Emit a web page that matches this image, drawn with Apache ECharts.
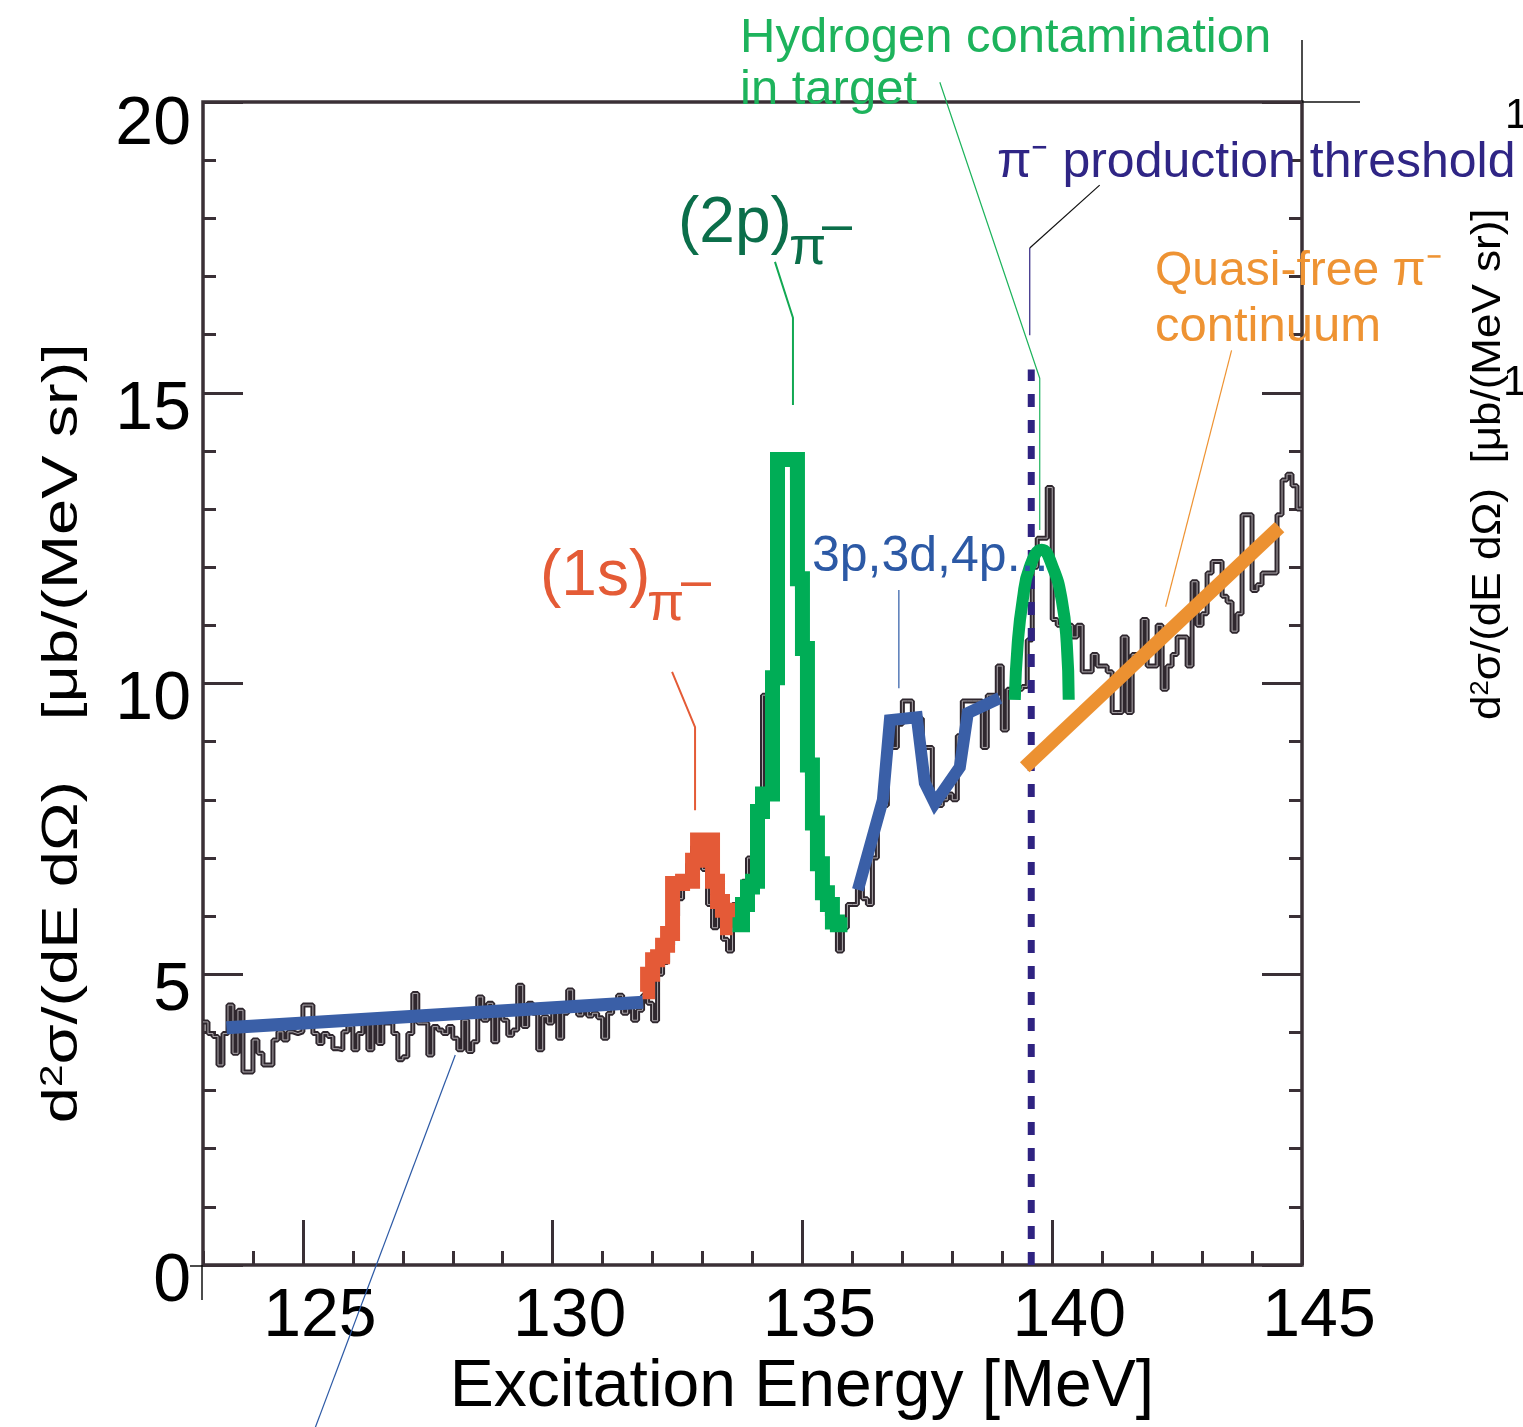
<!DOCTYPE html>
<html>
<head>
<meta charset="utf-8">
<script src="https://cdn.jsdelivr.net/npm/echarts@6/dist/echarts.min.js"></script>
<style>
  html, body { margin: 0; padding: 0; background: #fff; }
  #chart { width: 1523px; height: 1427px; }
</style>
</head>
<body>
<div id="chart"></div>
<script>
// ---- data (MeV, ub/(MeV sr)) ----
const binStart = 123.0;
const binWidth = 0.1;
// measured spectrum, 0.1 MeV bins
const histLow = [ // 123.0 - 131.8
  4.18, 3.98, 3.93, 3.44, 3.98, 4.47, 3.64, 4.38, 3.32, 3.32,
  3.87, 3.64, 3.44, 3.44, 3.87, 4.01, 3.87, 4.01, 3.98, 4.01,
  4.47, 4.47, 3.98, 3.81, 3.98, 3.93, 3.72, 3.70, 4.01, 4.10,
  3.70, 3.98, 4.16, 3.70, 4.16, 3.81, 4.16, 4.16, 3.98, 3.53,
  3.58, 3.98, 4.67, 4.16, 4.16, 3.61, 4.10, 4.04, 3.98, 4.10,
  3.90, 3.70, 4.21, 3.67, 3.84, 4.61, 4.21, 4.50, 3.84, 4.27,
  4.21, 3.95, 4.04, 4.81, 4.10, 4.50, 4.33, 3.70, 4.27, 4.16,
  4.33, 3.90, 4.33, 4.73, 4.50, 4.30, 4.36, 4.28, 4.33, 4.25,
  3.90, 4.33, 4.45, 4.64, 4.33, 4.50, 4.21, 4.38, 4.64
];
const histPeaks = [ // 131.9 - 135.9
  4.5, 4.2, 5.0, 5.2, 5.5, 6.0, 6.3, 6.5, 6.9, 7.2,
  7.0, 6.8, 6.2, 5.8, 6.0, 5.6, 5.4, 6.2, 6.0, 6.6,
  7.0, 7.6, 8.0, 9.8, 9.8, 12.8, 13.9, 13.9, 13.9, 13.5,
  11.6, 10.6, 8.4, 7.5, 6.8, 6.3, 6.0, 5.9, 5.4, 5.8,
  6.2
];
const histMid = [ // 136.0 - 139.0
  6.2, 6.5, 6.3, 6.2, 7.0, 7.8, 7.9, 9.3, 8.9, 9.3,
  9.7, 9.7, 9.4, 9.4, 8.9, 8.9, 8.0, 7.9, 8.0, 8.1,
  8.0, 9.1, 9.7, 9.7, 9.7, 9.7, 8.9, 9.8, 9.8, 10.3,
  9.2
];
const histHigh = [ // 139.1 - 144.9
  9.9, 9.9, 9.9, 9.95, 10.75, 12.0, 12.5, 12.5, 13.37,
  11.1, 11.0, 11.0, 11.0, 10.8, 11.0, 10.2, 10.2, 10.5, 10.3,
  10.3, 10.2, 9.5, 9.5, 10.8, 9.5, 10.5, 10.5, 11.1, 10.3,
  10.3, 11.0, 9.9, 10.3, 10.5, 10.8, 10.8, 10.3, 11.75, 11.0,
  11.2, 11.9, 12.1, 12.1, 11.5, 11.4, 10.9, 11.2, 12.9, 12.9,
  11.6, 11.7, 11.9, 11.9, 11.9, 12.9, 13.5, 13.6, 13.4, 13.0
];

// (1s) and (2p) highlighted steps
const oneSStart = 131.8;
const oneSValues = [4.7, 5.0, 5.25, 5.3, 5.5, 5.7, 6.56, 6.56, 6.6, 6.6,
  6.96, 7.31, 7.31, 7.31, 6.6, 6.25, 6.1, 5.8];
const twoPStart = 133.6;
const twoPValues = [5.85, 5.85, 6.2, 6.5, 6.6, 7.8, 8.1, 8.1, 10.1, 13.85,
  13.85, 13.85, 13.85, 11.8, 10.6, 8.6, 7.6, 6.9, 6.4, 6.2, 5.9, 5.85, 5.85];

// hand drawn guides
const bgLine = [[123.47, 4.08], [131.81, 4.52]];
const highLine = [[136.11, 6.45], [136.61, 8.0], [136.75, 9.37], [137.29, 9.42],
  [137.45, 8.29], [137.65, 7.94], [138.15, 8.56], [138.31, 9.49], [138.95, 9.75]];
const hydrogenArc = [[139.25, 9.72], [139.31, 10.7], [139.41, 11.44], [139.55, 12.0],
  [139.79, 12.3], [140.01, 12.0], [140.19, 11.44], [140.29, 10.7], [140.33, 9.72]];
const quasiFree = [[139.45, 8.56], [144.55, 12.69]];
const thresholdE = 139.58;
const thresholdTop = 15.4;

// leader lines
const leaders = [
  { pts: [[137.75, 20.34], [139.75, 15.25], [139.75, 12.64]], color: '#1db35c', w: 1.2 },
  { pts: [[140.95, 18.57], [139.55, 17.49]], color: '#111', w: 1.2 },
  { pts: [[139.55, 17.49], [139.55, 15.99]], color: '#2f2381', w: 1.2 },
  { pts: [[143.59, 15.73], [142.27, 11.32]], color: '#ee9333', w: 1.2 },
  { pts: [[134.45, 17.25], [134.81, 16.29], [134.81, 14.79]], color: '#12a852', w: 2 },
  { pts: [[132.39, 10.2], [132.85, 9.25], [132.85, 7.82]], color: '#e45b36', w: 2 },
  { pts: [[136.93, 11.61], [136.93, 9.92]], color: '#2c59a5', w: 1.2 },
  { pts: [[128.05, 3.61], [125.25, -2.79]], color: '#2c59a5', w: 1.2 }
];

const xMajor = [125, 130, 135, 140, 145];

function steps(start, vals) {
  const pts = vals.map((v, i) => [+(start + i * binWidth).toFixed(2), v]);
  pts.push([+(start + vals.length * binWidth).toFixed(2), vals[vals.length - 1]]);
  return pts;
}

const hist = histLow.concat(histPeaks, histMid, histHigh);
const histPts = steps(binStart, hist);

const FONT = "'Liberation Sans', Arial, sans-serif";
const AX = '#3a3036';

const chart = echarts.init(document.getElementById('chart'), null, { renderer: 'canvas' });

const series = [
  { type: 'line', data: histPts, step: 'end', symbol: 'none', z: 2,
    lineStyle: { color: '#2f272e', width: 5 } },
  { type: 'line', data: histPts, step: 'end', symbol: 'none', z: 3,
    lineStyle: { color: '#bdb9bc', width: 0.9 } },
  { type: 'line', data: [[thresholdE, 0], [thresholdE, thresholdTop]], symbol: 'none', z: 4,
    lineStyle: { color: '#2f2381', width: 7, type: [13, 13] } },
  { type: 'line', data: bgLine, symbol: 'none', z: 5,
    lineStyle: { color: '#3a5fa7', width: 13, cap: 'butt' } },
  { type: 'line', data: steps(oneSStart, oneSValues), step: 'end', symbol: 'none', z: 5,
    lineStyle: { color: '#e45a37', width: 15, join: 'miter' } },
  { type: 'line', data: steps(twoPStart, twoPValues), step: 'end', symbol: 'none', z: 5,
    lineStyle: { color: '#00ad56', width: 15, join: 'miter' } },
  { type: 'line', data: highLine, symbol: 'none', z: 5,
    lineStyle: { color: '#3a5fa7', width: 12, join: 'miter' } },
  { type: 'line', data: hydrogenArc, smooth: 0.5, symbol: 'none', z: 6,
    lineStyle: { color: '#00ad56', width: 12 } },
  { type: 'line', data: quasiFree, symbol: 'none', z: 6,
    lineStyle: { color: '#ec9131', width: 14 } }
];
leaders.forEach((l) => {
  series.push({ type: 'line', data: l.pts, symbol: 'none', clip: false, z: 7,
    lineStyle: { color: l.color, width: l.w } });
});

const txt = (x, y, text, size, color, extra) => Object.assign({
  type: 'text', x, y, z: 100,
  style: { text, font: `${size}px ${FONT}`, fill: color }
}, extra || {});

const rotTitle = (x, y, text, size, sx) => ({
  type: 'text', x, y, rotation: Math.PI / 2, scaleX: sx, z: 100,
  style: { text, align: 'center', verticalAlign: 'middle',
    rich: { n: { font: `${size}px ${FONT}`, fill: '#000' },
      s: { font: `${Math.round(size * 0.62)}px ${FONT}`, fill: '#000', verticalAlign: 'top' } } }
});

chart.setOption({
  animation: false,
  backgroundColor: '#fff',
  grid: { left: 203, top: 102, right: 221, bottom: 162, show: true,
    borderColor: AX, borderWidth: 3.5, backgroundColor: 'transparent' },
  xAxis: [
    { type: 'value', min: 123, max: 145, position: 'bottom',
      axisLine: { show: false }, splitLine: { show: false },
      axisTick: { show: true, inside: true, length: 45, customValues: xMajor,
        lineStyle: { color: AX, width: 3 } },
      axisLabel: { customValues: xMajor, fontFamily: FONT, fontSize: 68, color: '#000',
        margin: 18, padding: [0, 0, 0, 34] } },
    { type: 'value', min: 123, max: 145, interval: 1, position: 'bottom',
      axisLine: { show: false }, splitLine: { show: false }, axisLabel: { show: false },
      axisTick: { show: true, inside: true, length: 14, lineStyle: { color: AX, width: 3 } } }
  ],
  yAxis: [
    { type: 'value', min: 0, max: 20, interval: 5, position: 'left',
      axisLine: { show: false }, splitLine: { show: false },
      axisTick: { show: true, inside: true, length: 40, lineStyle: { color: AX, width: 3 } },
      minorTick: { show: true, splitNumber: 5, length: 13, lineStyle: { color: AX, width: 3 } },
      axisLabel: { color: '#000', margin: 12, verticalAlign: 'top',
        formatter: (v) => (v === 20 ? `{hi|${v}}` : `{lo|${v}}`),
        rich: {
          hi: { fontFamily: FONT, fontSize: 68, lineHeight: 34, padding: [13, 0, 0, 0] },
          lo: { fontFamily: FONT, fontSize: 68, lineHeight: 34 }
        } } },
    { type: 'value', min: 0, max: 20, interval: 5, position: 'right',
      axisLine: { show: false }, splitLine: { show: false }, axisLabel: { show: false },
      axisTick: { show: true, inside: true, length: 40, lineStyle: { color: AX, width: 3 } },
      minorTick: { show: true, splitNumber: 5, length: 13, lineStyle: { color: AX, width: 3 } } }
  ],
  series,
  graphic: [
    // crop marks
    { type: 'line', shape: { x1: 1302, y1: 40, x2: 1302, y2: 102 }, style: { stroke: '#111', lineWidth: 1.5 } },
    { type: 'line', shape: { x1: 1302, y1: 102, x2: 1360, y2: 102 }, style: { stroke: '#111', lineWidth: 1.5 } },
    { type: 'line', shape: { x1: 202, y1: 1265, x2: 202, y2: 1300 }, style: { stroke: '#111', lineWidth: 1.5 } },
    { type: 'line', shape: { x1: 190, y1: 1266, x2: 203, y2: 1266 }, style: { stroke: '#111', lineWidth: 1.5 } },
    // axis titles
    { type: 'text', x: 802, y: 1355, z: 100,
      style: { text: 'Excitation Energy [MeV]', font: `66px ${FONT}`, fill: '#000', align: 'center', verticalAlign: 'top' } },
    rotTitle(63, 532, '{n|[μb/(MeV sr)]}', 50, 1.3),
    rotTitle(63, 952, '{n|d}{s|2}{n|σ/(dE dΩ)}', 50, 1.3),
    rotTitle(1489, 336, '{n|[μb/(MeV sr)]}', 40, 1.1),
    rotTitle(1489, 604, '{n|d}{s|2}{n|σ/(dE dΩ)}', 40, 1.1),
    txt(1505, 95, '1', 42, '#000'),
    txt(1503, 362, '1', 42, '#000'),
    // annotations
    txt(740, 14, 'Hydrogen contamination', 49, '#1db35c'),
    txt(740, 66, 'in target', 49, '#1db35c'),
    txt(997, 138, 'π⁻ production threshold', 50, '#2f2585'),
    txt(678, 192, '(2p)', 64, '#0b6e4a'),
    txt(789, 222, 'π', 54, '#0b6e4a'),
    txt(822, 200, '–', 54, '#0b6e4a'),
    txt(540, 545, '(1s)', 64, '#e45b36'),
    txt(647, 578, 'π', 54, '#e45b36'),
    txt(681, 556, '–', 54, '#e45b36'),
    txt(812, 532, '3p,3d,4p...', 50, '#2c59a5'),
    txt(1155, 248, 'Quasi-free π⁻', 48, '#ee9333'),
    txt(1155, 303, 'continuum', 49, '#ee9333')
  ]
});
</script>
</body>
</html>
